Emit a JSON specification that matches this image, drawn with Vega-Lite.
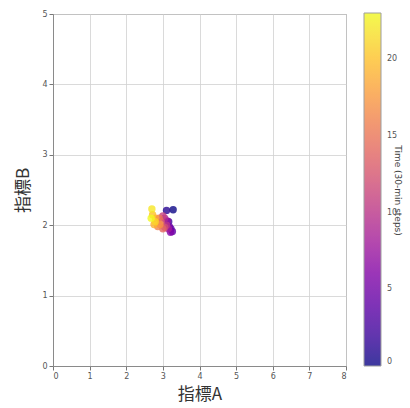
{
  "$schema": "https://vega.github.io/schema/vega-lite/v6.json",
  "width": 293,
  "height": 352,
  "autosize": {"type": "none"},
  "padding": {"left": 53, "top": 14, "right": 64, "bottom": 42},
  "background": "white",
  "config": {
    "view": {"stroke": "#8a8a8a", "strokeWidth": 1},
    "axis": {
      "labelFont": "DejaVu Sans",
      "labelFontSize": 8,
      "labelColor": "#555",
      "labelOverlap": false,
      "tickColor": "#777",
      "tickSize": 4,
      "domainColor": "#8a8a8a",
      "gridColor": "#d0d0d0",
      "gridWidth": 0.8,
      "titleFont": "Noto Sans CJK JP",
      "titleFontWeight": "normal",
      "titleFontSize": 17,
      "titleColor": "#333"
    }
  },
  "data": {
    "values": [
      {"t": 0, "a": 3.28, "b": 2.22},
      {"t": 1, "a": 3.1, "b": 2.21},
      {"t": 2, "a": 3.16, "b": 2.05},
      {"t": 3, "a": 3.22, "b": 1.95},
      {"t": 4, "a": 3.26, "b": 1.91},
      {"t": 5, "a": 3.18, "b": 1.98},
      {"t": 6, "a": 3.21, "b": 1.9},
      {"t": 7, "a": 3.12, "b": 2.06},
      {"t": 8, "a": 3.15, "b": 1.95},
      {"t": 9, "a": 3.05, "b": 2.1},
      {"t": 10, "a": 3.1, "b": 2.0},
      {"t": 11, "a": 3.0, "b": 2.13},
      {"t": 12, "a": 3.05, "b": 1.97},
      {"t": 13, "a": 2.95, "b": 2.05},
      {"t": 14, "a": 3.0, "b": 1.95},
      {"t": 15, "a": 2.9, "b": 2.1},
      {"t": 16, "a": 2.86, "b": 1.98},
      {"t": 17, "a": 2.92, "b": 2.01},
      {"t": 18, "a": 2.8, "b": 2.1},
      {"t": 19, "a": 2.76, "b": 2.01},
      {"t": 20, "a": 2.72, "b": 2.15},
      {"t": 21, "a": 2.79, "b": 2.05},
      {"t": 22, "a": 2.7, "b": 2.23},
      {"t": 23, "a": 2.68, "b": 2.1}
    ]
  },
  "layer": [
    {
      "mark": {"type": "circle", "size": 55, "opacity": 0.8},
      "encoding": {
        "x": {
          "field": "a", "type": "quantitative",
          "scale": {"domain": [0, 8], "nice": false},
          "axis": {"values": [0,1,2,3,4,5,6,7,8], "format": "d", "title": "指標A", "titlePadding": 6}
        },
        "y": {
          "field": "b", "type": "quantitative",
          "scale": {"domain": [0, 5], "nice": false},
          "axis": {"orient": "left", "values": [0,1,2,3,4,5], "format": "d", "title": "指標B", "titlePadding": 9}
        },
        "color": {
          "field": "t", "type": "quantitative",
          "scale": {"scheme": "plasma", "domain": [0, 23]},
          "legend": {
            "orient": "none",
            "legendX": 311,
            "legendY": -1,
            "title": null,
            "gradientLength": 353,
            "gradientThickness": 17,
            "gradientStrokeColor": "#888",
            "gradientStrokeWidth": 1,
            "values": [0, 5, 10, 15, 20],
            "labelFont": "DejaVu Sans",
            "labelFontSize": 8,
            "labelColor": "#555",
            "labelOffset": 6
          }
        }
      }
    },
    {
      "mark": {"type": "point", "opacity": 0},
      "encoding": {
        "y": {
          "field": "t", "type": "quantitative",
          "axis": {
            "orient": "right", "labels": false, "ticks": false, "domain": false, "grid": false,
            "title": "Time (30-min steps)", "titleFont": "DejaVu Sans", "titleFontSize": 9,
            "titleFontWeight": "normal", "titleColor": "#444", "titlePadding": 46
          }
        }
      }
    }
  ],
  "resolve": {"scale": {"y": "independent"}}
}
